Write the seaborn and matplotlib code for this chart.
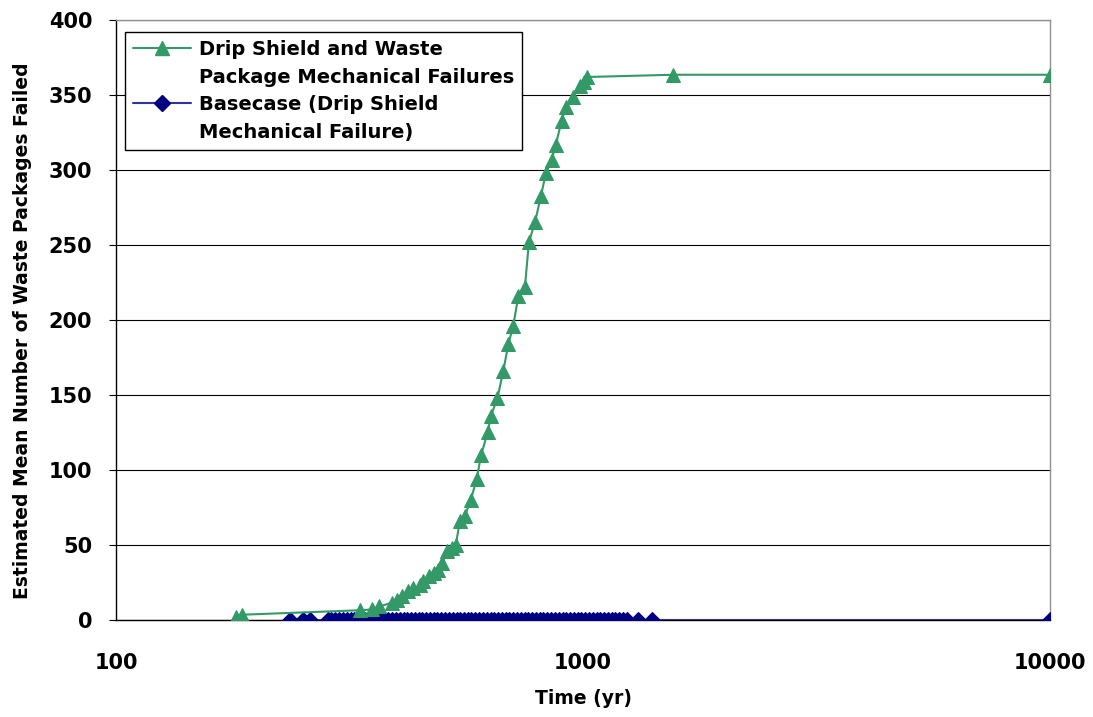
import matplotlib
matplotlib.use("Agg")
import matplotlib.pyplot as plt
from matplotlib.lines import Line2D
import seaborn as sns
import pandas as pd

# Drip shield + waste package mechanical failures (time in yr, mean number failed)
combined_time = [181, 186, 333, 353, 366, 390, 400, 410, 422, 433, 447, 455, 468,
                 480, 490, 500, 511, 524, 534, 545, 558, 575, 592, 605, 625, 635,
                 656, 675, 692, 709, 727, 751, 766, 789, 813, 833, 857, 875, 900,
                 920, 953, 985, 1003, 1018, 1560, 10000]
combined_failed = [2, 3.5, 6.5, 7, 9, 11.5, 13, 16, 19, 21, 23, 26, 29,
                   31, 33, 38, 46, 48, 50, 66, 69, 80, 94, 110, 125, 136,
                   148, 166, 184, 196, 216, 222, 252, 265, 283, 298, 307, 317, 333,
                   342, 349, 356, 359, 362, 363.5, 363.5]

# Basecase: drip shield mechanical failure only
basecase_time = [236, 251, 260,
                 284, 289, 295, 300, 306, 312, 318, 324, 330, 336,
                 342, 349, 355, 362, 369, 376, 383, 390, 397, 405,
                 413, 420, 428, 436, 445, 453, 462, 470, 479, 488,
                 497, 507, 516, 526, 536, 546, 556, 567, 577, 588,
                 599, 611, 622, 634, 646, 658, 670, 683, 696, 709,
                 722, 736, 750, 764, 778, 793, 808, 823, 839, 854,
                 870, 887, 904, 921, 938, 956, 974, 992, 1010, 1030,
                 1049, 1069, 1089, 1109, 1130, 1152, 1173, 1195, 1218, 1241,
                 1312, 1403, 10000]
basecase_failed = [0] * len(basecase_time)

legend_lines = ["Drip Shield and Waste", "Package Mechanical Failures",
                "Basecase (Drip Shield", "Mechanical Failure)"]
y_ticks = [0, 50, 100, 150, 200, 250, 300, 350, 400]
x_ticks = [100, 1000, 10000]
x_tick_labels = ["100", "1000", "10000"]

GREEN = "#339966"
NAVY = "#000080"
BLUE_LINE = "#3333a0"

sns.set_theme(style="white")
plt.rcParams["font.family"] = ["DejaVu Sans"]
plt.rcParams["font.weight"] = "bold"
plt.rcParams["text.color"] = "#000000"
plt.rcParams["axes.labelcolor"] = "#000000"
plt.rcParams["xtick.color"] = "#000000"
plt.rcParams["ytick.color"] = "#000000"

fig = plt.figure(figsize=(10.93, 7.17), dpi=100)
ax = fig.add_axes([0.1061, 0.1353, 0.8546, 0.8368])

df_combined = pd.DataFrame({"time": combined_time, "failed": combined_failed})
df_base = pd.DataFrame({"time": basecase_time, "failed": basecase_failed})

sns.lineplot(data=df_base, x="time", y="failed", ax=ax, estimator=None,
             color=BLUE_LINE, lw=1.5, marker="D", markersize=8.5,
             markerfacecolor=NAVY, markeredgecolor=NAVY, zorder=3)
sns.lineplot(data=df_combined, x="time", y="failed", ax=ax, estimator=None,
             color=GREEN, lw=1.5, marker="^", markersize=9.5,
             markerfacecolor=GREEN, markeredgecolor=GREEN, zorder=4)

ax.set_xscale("log")
ax.set_xlim(100, 10000)
ax.set_ylim(0, 400)
ax.set_xticks(x_ticks)
ax.set_xticklabels(x_tick_labels)
ax.minorticks_off()
ax.set_yticks(y_ticks)

ax.grid(axis="y", color="#000000", lw=0.8)
ax.grid(axis="x", visible=False)
ax.set_axisbelow(True)

for side in ["left", "bottom"]:
    ax.spines[side].set_color("#000000")
    ax.spines[side].set_linewidth(1.0)
for side in ["top", "right"]:
    ax.spines[side].set_color("#909090")
    ax.spines[side].set_linewidth(1.0)

ax.tick_params(axis="y", which="major", left=True, length=5, width=0.8,
               color="#000000", labelcolor="#000000", pad=12, labelsize=15)
ax.tick_params(axis="x", which="major", bottom=False, length=0, pad=24,
               labelcolor="#000000", labelsize=15)
for lab in ax.get_xticklabels() + ax.get_yticklabels():
    lab.set_fontweight("bold")

ax.set_xlabel("Time (yr)", fontsize=13.5, fontweight="bold", labelpad=11,
              color="#000000")
ax.set_ylabel("Estimated Mean Number of Waste Packages Failed", fontsize=13.5,
              fontweight="bold", color="#000000")
ax.yaxis.set_label_coords(-0.09, 0.483)

handles = [
    Line2D([], [], color=GREEN, lw=1.5, marker="^", markersize=9.5,
           markerfacecolor=GREEN, markeredgecolor=GREEN),
    Line2D([], [], color="none", lw=0),
    Line2D([], [], color=BLUE_LINE, lw=1.5, marker="D", markersize=8.5,
           markerfacecolor=NAVY, markeredgecolor=NAVY),
    Line2D([], [], color="none", lw=0),
]
leg = ax.legend(handles, legend_lines, loc="upper left",
                bbox_to_anchor=(0.0096, 0.98), borderaxespad=0,
                prop={"weight": "bold", "size": 14}, frameon=True,
                fancybox=False, edgecolor="#000000", framealpha=1,
                handlelength=3.0, handletextpad=0.4, labelspacing=0.45,
                borderpad=0.4)
leg.get_frame().set_linewidth(1.0)
for t in leg.get_texts():
    t.set_color("#000000")

fig.savefig("out.png", dpi=100)
